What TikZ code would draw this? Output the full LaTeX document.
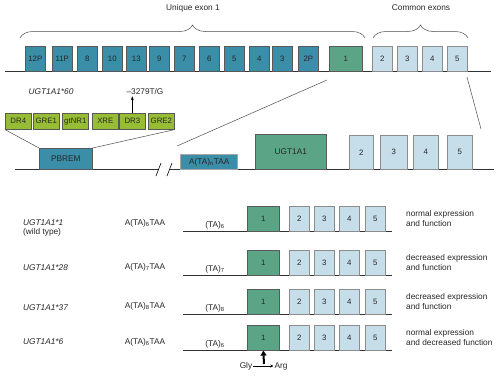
\documentclass[tikz,border=0pt]{standalone}
\usepackage{fontspec}
\setmainfont{Liberation Sans}
\usetikzlibrary{positioning, arrows.meta, decorations.pathreplacing}

\definecolor{exblue}{RGB}{59,142,168}
\definecolor{exgreen}{RGB}{92,164,134}
\definecolor{exlight}{RGB}{198,222,234}
\definecolor{exolive}{RGB}{151,189,52}

\begin{document}
\begin{tikzpicture}[x=1pt, y=-1pt, font=\fontsize{8.3}{10}\selectfont, text=black!85,
    box/.style={draw=black!65, line width=0.6pt, inner sep=0pt, anchor=north west, font=\fontsize{7.8}{9}\selectfont},
    uexon/.style={box, fill=exblue},
    gexon/.style={box, fill=exgreen},
    cexon/.style={box, fill=exlight, draw=black!45},
    relem/.style={box, fill=exolive, minimum width=26pt, minimum height=16pt},
    lbl/.style={inner sep=1pt},
    dna/.style={line width=0.7pt, black!80},
    brc/.style={decorate, decoration={brace, amplitude=13pt}, line width=0.5pt, black!70}]
    \useasboundingbox (0,0) rectangle (500,375);

    % gene map
    \coordinate (ta) at (5,71);
    \coordinate (tb) at (491,71);
    \draw[dna] (ta) -- (tb);
    \foreach \x/\t [count=\i] in {25/12P,52/11P,77/8,102/10,126/13,149/9,174/7,199/6,224/5,249/4,272/3,298/2P}
        \node[uexon, minimum width=20pt, minimum height=25pt] (u\i) at (\x,46) {\t};
    \node[gexon, minimum width=33pt, minimum height=25pt] (top1) at (329,46) {1};
    \foreach \x/\t in {372/2,397/3,422/4,447/5}
        \node[cexon, minimum width=20pt, minimum height=25pt] (c\t) at (\x,46) {\t};

    \coordinate (bu1) at (20,38);
    \coordinate (bu2) at (365,38);
    \coordinate (bc1) at (373,38);
    \coordinate (bc2) at (468,38);
    \draw[brc] (bu1) -- (bu2);
    \draw[brc] (bc1) -- (bc2);
    \node[lbl] (uniq) at (193,8) {Unique exon 1};
    \node[lbl] (comm) at (421,8) {Common exons};

    % enlarged region
    \coordinate (m0) at (15,169);
    \coordinate (m1) at (159,169);
    \coordinate (m2) at (170,169);
    \coordinate (m3) at (494,169);
    \draw[dna] (m0) -- (m1) (m2) -- (m3);
    \draw[line width=0.6pt] (156,176) -- (161,163) (167,176) -- (172,163);

    \node[uexon, minimum width=53pt, minimum height=21pt, font=\fontsize{8.3}{10}\selectfont] (pbrem) at (39,148) {PBREM};
    \node[uexon, draw=black!35, line width=1.4pt, minimum width=57pt, minimum height=15pt, font=\fontsize{8.3}{10}\selectfont] (tata) at (180,154) {A(TA)\textsubscript{n}TAA};
    \node[gexon, minimum width=71pt, minimum height=35pt, font=\fontsize{8.3}{10}\selectfont] (ugt) at (255,134) {UGT1A1};
    \foreach \x/\w/\t in {349/24pt/2,380/27pt/3,413/25pt/4,447/25pt/5}
        \node[cexon, minimum width=\w, minimum height=34pt] (e\t) at (\x,135) {\t};

    \coordinate (z1) at (327,80);
    \coordinate (z2) at (177,146);
    \coordinate (z3) at (467,77);
    \coordinate (z4) at (481,129);
    \draw[line width=0.5pt, black!70] (z1) -- (z2) (z3) -- (z4);

    \foreach \x/\t [count=\i] in {5/DR4,33/GRE1,62/gtNR1,92/XRE,119/DR3,148/GRE2}
        \node[relem] (s\i) at (\x,113) {\t};
    \draw[line width=0.5pt, black!70] (s1.south west) -- (pbrem.north west)
        (s6.south east) -- (pbrem.north east);

    \node[lbl, font=\fontsize{8.3}{10}\itshape] (v60) at (51,92) {UGT1A1*60};
    \node[lbl] (snp) at (145,92) {--3279T/G};
    \draw[-{Stealth[length=4pt, width=3pt]}, line width=0.5pt] (s5.north) -- (s5.north |- snp.south);

    % alleles
    \foreach \y/\k/\txt [count=\r] in {231/6/{normal expression\\and function},
            275/7/{decreased expression\\and function},
            314/8/{decreased expression\\and function},
            350/6/{normal expression\\and decreased function}} {
        \coordinate (l\r) at (183,\y);
        \coordinate (r\r) at (392,\y);
        \draw[dna] (l\r) -- (r\r);
        \node[gexon, minimum width=32pt, minimum height=25pt] (b\r-1) at (247,\y-25) {1};
        \foreach \x/\t in {289/2,314/3,339/4,365/5}
            \node[cexon, minimum width=20pt, minimum height=25pt] (b\r-\t) at (\x,\y-25) {\t};
        \node[lbl] (ta\r) at (215,\y-6) {(TA)\textsubscript{\k}};
        \node[lbl] (pr\r) at (145,\y-8) {A(TA)\textsubscript{\k}TAA};
        \node[lbl, anchor=west, align=left] (fx\r) at (405,\y-12) {\txt};
    }
    \node[lbl, anchor=west, font=\fontsize{8.3}{10}\itshape] (g1) at (22,223) {UGT1A1*1};
    \node[lbl, anchor=north west] (wt) at (g1.south west) {(wild type)};
    \node[lbl, anchor=west, font=\fontsize{8.3}{10}\itshape] (g2) at (22,268) {UGT1A1*28};
    \node[lbl, anchor=west, font=\fontsize{8.3}{10}\itshape] (g3) at (22,308) {UGT1A1*37};
    \node[lbl, anchor=west, font=\fontsize{8.3}{10}\itshape] (g4) at (22,342) {UGT1A1*6};

    \node[lbl] (gly) at (246,366) {Gly};
    \node[lbl] (arg) at (281,366) {Arg};
    \coordinate (mut) at (264,364);
    \draw[-{Stealth[length=3pt, width=3pt]}, line width=0.5pt] (gly.east) -- (arg.west);
    \draw[-{Triangle[length=5pt, width=6pt]}, line width=2pt] (mut) -- (b4-1.south);
\end{tikzpicture}
\end{document}
